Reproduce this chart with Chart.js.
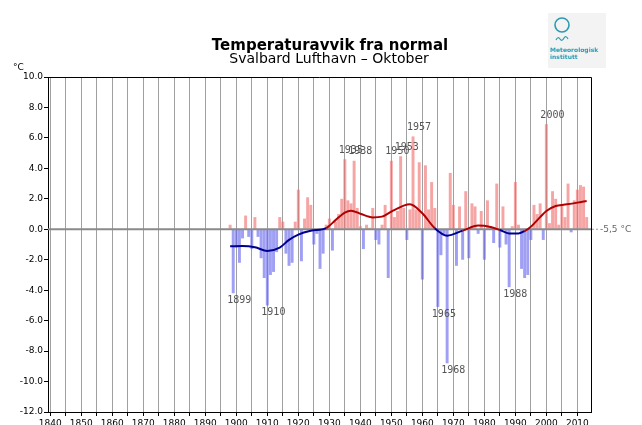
<!DOCTYPE html>
<html>
<head>
<meta charset="utf-8">
<script src="https://cdn.jsdelivr.net/npm/chart.js@4"></script>
<style>
  html, body { margin: 0; padding: 0; background: #fff; overflow: hidden; }
  #wrap { width: 642px; height: 425px; overflow: hidden; }
</style>
</head>
<body>
<div id="wrap"><canvas id="chart" width="642" height="440"></canvas></div>
<script>
// Avvik (°C) fra normal, oktober, Svalbard Lufthavn, 1898-2013
const firstYear = 1898;
const deviations = [
    0.3, -4.2,                                              // 1898-1899
    -1.2, -2.2, -0.6, 0.9, -0.5, -1.3, 0.8, -0.5, -1.9, -3.2, // 1900-
    -5.0, -3.0, -2.8, -1.5, 0.8, 0.5, -1.6, -2.4, -2.2, 0.5,  // 1910-
    2.6, -2.1, 0.7, 2.1, 1.6, -1.0, -0.3, -2.6, -1.6, 0.3,    // 1920-
    0.7, -1.4, 0.5, 1.0, 2.0, 4.6, 1.9, 1.7, 4.5, 1.4,        // 1930-
    0.2, -1.3, 0.3, 0.1, 1.4, -0.7, -1.0, 0.3, 1.6, -3.2,     // 1940-
    4.5, 0.8, 1.2, 4.8, 1.4, -0.7, 1.3, 6.1, 1.3, 4.4,        // 1950-
    -3.3, 4.2, 1.3, 3.1, 1.4, -5.1, -1.7, -0.3, -8.8, 3.7,    // 1960-
    1.6, -2.4, 1.5, -2.0, 2.5, -1.9, 1.7, 1.5, -0.3, 1.2,     // 1970-
    -2.0, 1.9, 0.2, -0.9, 3.0, -1.2, 1.5, -1.0, -3.8, 0.2,    // 1980-
    3.1, 0.3, -2.6, -3.2, -3.0, -0.7, 1.6, 1.0, 1.7, -0.7,    // 1990-
    6.9, 0.4, 2.5, 2.0, 0.3, 1.6, 0.8, 3.0, -0.2, 1.9,        // 2000-
    2.6, 2.9, 2.8, 0.8                                        // 2010-2013
];
const years = deviations.map((_, i) => firstYear + i);

// Glattet kurve
const curveYears  = [1898, 1902, 1906, 1910, 1914, 1917, 1920, 1924, 1929, 1932, 1935, 1937, 1940, 1944, 1947, 1950, 1954, 1956, 1960, 1964, 1968, 1973, 1978, 1982, 1985, 1988, 1991, 1993, 1995, 1998, 2000, 2003, 2006, 2010, 2013];
const curveValues = [-1.12, -1.1, -1.18, -1.42, -1.2, -0.7, -0.35, -0.1, 0.08, 0.6, 1.1, 1.22, 1.02, 0.78, 0.83, 1.16, 1.55, 1.64, 1.05, 0.07, -0.42, -0.09, 0.24, 0.15, -0.05, -0.27, -0.27, -0.12, 0.17, 0.8, 1.2, 1.53, 1.62, 1.75, 1.86];

// Merkede år
const markedYears = [1899, 1910, 1935, 1938, 1950, 1953, 1957, 1965, 1968, 1988, 2000];

const yTicks = [10, 8, 6, 4, 2, 0, -2, -4, -6, -8, -10, -12];
const normalText = '-5,5 °C';

const RED_BAR = 'rgba(240, 110, 110, 0.62)';
const BLUE_BAR = 'rgba(100, 100, 235, 0.62)';

const decorations = {
    id: 'decorations',
    beforeDatasetDraw(chart, args) {
        if (args.index !== 0) return;
        // nullinjen under kurven
        const { ctx, chartArea } = chart;
        const y0 = chart.scales.y.getPixelForValue(0);
        ctx.save();
        ctx.strokeStyle = '#8a8a8a';
        ctx.lineWidth = 2;
        ctx.beginPath();
        ctx.moveTo(chartArea.left, y0);
        ctx.lineTo(chartArea.right, y0);
        ctx.stroke();
        ctx.restore();
    },
    afterDraw(chart) {
        const { ctx, chartArea } = chart;
        const xs = chart.scales.x, ys = chart.scales.y;
        ctx.save();

        // ramme
        ctx.strokeStyle = '#000';
        ctx.lineWidth = 1;
        ctx.beginPath();
        ctx.moveTo(chartArea.left, chartArea.top + 0.5);
        ctx.lineTo(chartArea.right + 0.5, chartArea.top + 0.5);
        ctx.lineTo(chartArea.right + 0.5, chartArea.bottom);
        ctx.stroke();

        // normalverdi til høyre
        const y0 = ys.getPixelForValue(0);
        ctx.strokeStyle = '#999';
        ctx.setLineDash([2, 2]);
        ctx.beginPath();
        ctx.moveTo(chartArea.right + 1, y0);
        ctx.lineTo(chartArea.right + 8, y0);
        ctx.stroke();
        ctx.setLineDash([]);
        ctx.fillStyle = '#666';
        ctx.font = '9px "DejaVu Sans"';
        ctx.textBaseline = 'middle';
        ctx.textAlign = 'left';
        ctx.fillText(normalText, chartArea.right + 9, y0);

        // årstall ved ekstreme verdier
        ctx.fillStyle = '#555';
        ctx.font = '10px "DejaVu Sans Mono"';
        markedYears.forEach(yr => {
            const v = deviations[yr - firstYear];
            const x = xs.getPixelForValue(yr) - 6;
            const y = ys.getPixelForValue(v) + (v > 0 ? -9 : 7);
            ctx.fillText(String(yr), x, y);
        });

        // titler
        ctx.fillStyle = '#000';
        ctx.textAlign = 'center';
        ctx.textBaseline = 'alphabetic';
        ctx.font = 'bold 15px "DejaVu Sans"';
        ctx.fillText('Temperaturavvik fra normal', 330, 50);
        ctx.font = '14px "DejaVu Sans"';
        ctx.fillText('Svalbard Lufthavn \u2013 Oktober', 329, 63);

        ctx.textAlign = 'left';
        ctx.font = '9px "DejaVu Sans"';
        ctx.fillText('\u00b0C', 13, 70);

        // logo
        ctx.fillStyle = '#f3f3f3';
        ctx.fillRect(548, 13, 58, 55);
        ctx.strokeStyle = '#2a9bb3';
        ctx.lineWidth = 1.6;
        ctx.beginPath();
        ctx.arc(562, 25, 7, 0, Math.PI * 2);
        ctx.stroke();
        ctx.lineWidth = 1.2;
        ctx.beginPath();
        ctx.moveTo(556, 40);
        ctx.quadraticCurveTo(558, 36, 560, 39);
        ctx.quadraticCurveTo(562, 42, 564, 38);
        ctx.quadraticCurveTo(566, 35, 568, 39);
        ctx.stroke();
        ctx.fillStyle = '#2a9bb3';
        ctx.font = 'bold 6px "DejaVu Sans"';
        ctx.fillText('Meteorologisk', 550, 52);
        ctx.fillText('institutt', 550, 59);

        ctx.restore();
    }
};

const ctx = document.getElementById('chart').getContext('2d');
new Chart(ctx, {
    type: 'bar',
    data: {
        datasets: [{
            type: 'line',
            data: curveYears.map((yr, i) => ({ x: yr, y: curveValues[i] })),
            borderWidth: 2,
            pointRadius: 0,
            cubicInterpolationMode: 'monotone',
            segment: {
                borderColor: c => (c.p0.parsed.y + c.p1.parsed.y) / 2 >= 0 ? '#b00000' : '#000090'
            }
        }, {
            data: years.map((yr, i) => ({ x: yr, y: deviations[i] })),
            backgroundColor: deviations.map(v => v >= 0 ? RED_BAR : BLUE_BAR),
            borderWidth: 0,
            barPercentage: 1,
            categoryPercentage: 0.95
        }]
    },
    options: {
        responsive: false,
        animation: false,
        layout: { padding: { top: 77, right: 51, left: 0, bottom: 0 } },
        plugins: {
            legend: { display: false },
            tooltip: { enabled: false }
        },
        scales: {
            x: {
                type: 'linear',
                offset: false,
                min: 1839.26,
                max: 2014.4,
                afterBuildTicks: scale => {
                    const t = [];
                    for (let v = 1840; v <= 2010; v += 5) t.push({ value: v });
                    scale.ticks = t;
                },
                afterFit: scale => { scale.height = 28; },
                grid: { color: '#a0a0a0', lineWidth: 1, tickLength: 4, tickColor: '#000', offset: false },
                border: { color: '#000', width: 1 },
                ticks: {
                    autoSkip: false,
                    maxRotation: 0,
                    padding: 2,
                    color: '#000',
                    font: { family: 'DejaVu Sans', size: 9 },
                    callback: v => v % 10 === 0 ? String(v) : ''
                }
            },
            y: {
                min: -12,
                max: 10,
                afterBuildTicks: scale => { scale.ticks = yTicks.map(v => ({ value: v })); },
                afterFit: scale => { scale.width = 48; },
                grid: { drawOnChartArea: false, tickLength: 4, tickColor: '#000' },
                border: { color: '#000', width: 1 },
                ticks: {
                    padding: 1,
                    color: '#000',
                    font: { family: 'DejaVu Sans', size: 9 },
                    callback: v => v.toFixed(1)
                }
            }
        }
    },
    plugins: [decorations]
});
</script>
</body>
</html>
